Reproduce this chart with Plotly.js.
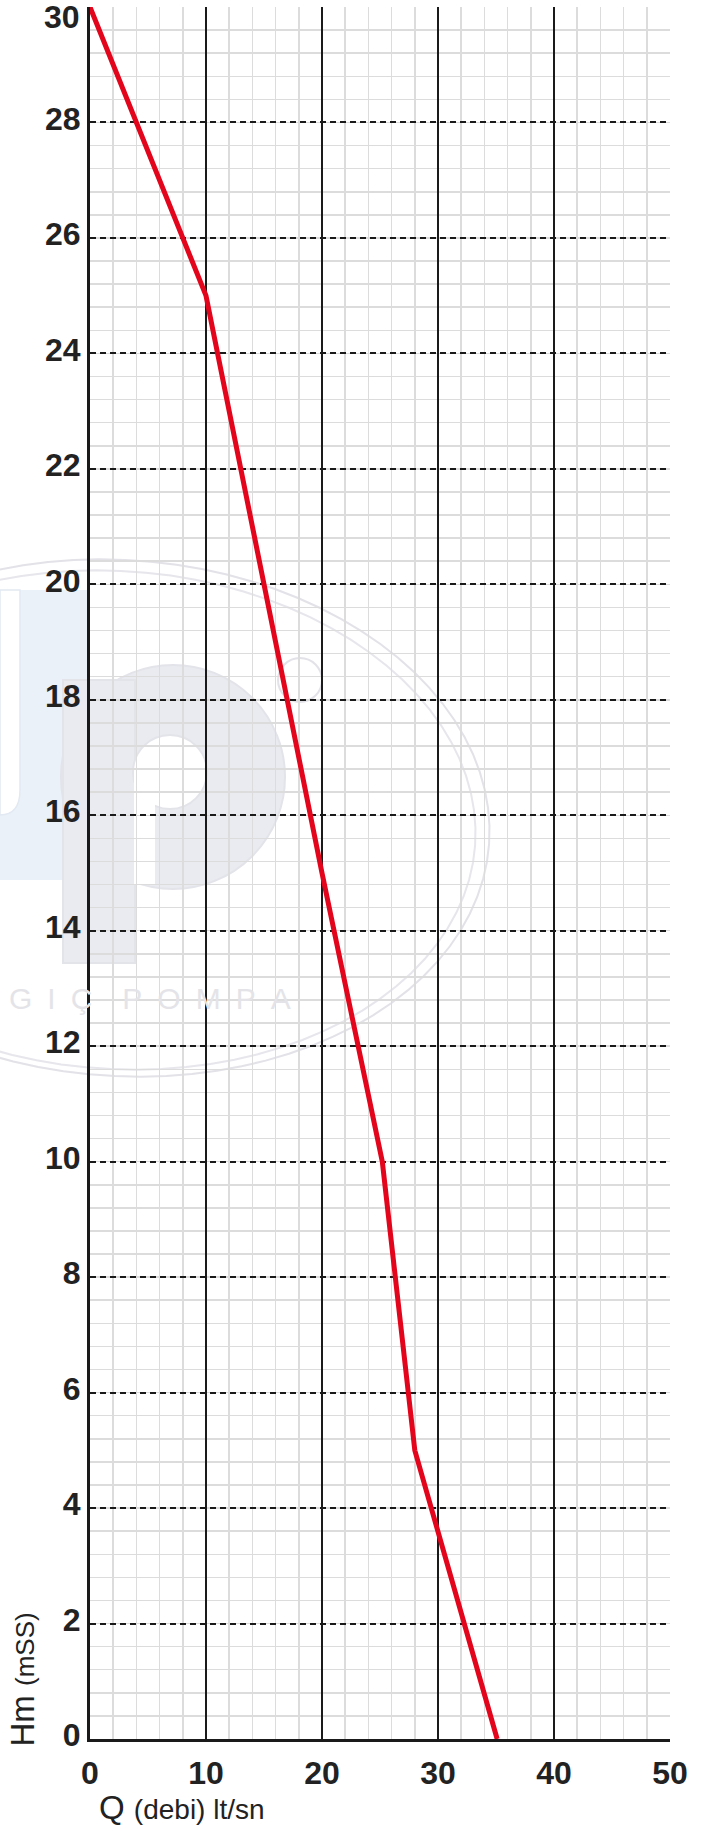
<!DOCTYPE html>
<html>
<head>
<meta charset="utf-8">
<script src="https://cdn.plot.ly/plotly-3.0.1.min.js"></script>
<style>html,body{margin:0;padding:0;background:#fff;}#chart{width:715px;height:1831px;}</style>
</head>
<body>
<div id="chart"></div>
<script>
// Pump curve: flow Q (lt/sn) vs head Hm (mSS)
const flowQ = [0, 10, 20, 25.2, 28, 35.1];
const headH = [30, 25, 15, 10, 5, 0];
const xTicks = [0, 10, 20, 30, 40, 50];
const yTicks = [0, 2, 4, 6, 8, 10, 12, 14, 16, 18, 20, 22, 24, 26, 28];
const yTopTick = 30;   // top label, drawn as annotation so it is not clipped

const FONT = 'Liberation Sans, Arial, sans-serif';
const tickFont = {family: FONT, size: 32, color: '#222222', weight: 'bold'};

// page geometry of the plot area (pixels), used only to place the faint watermark
const W = 715, H = 1831, ML = 90, MR = 45, MT = 7, MB = 92;
const PW = W - ML - MR, PH = H - MT - MB;
const px = v => (v - ML) / PW;           // page x pixel -> paper x
const py = v => (H - MB - v) / PH;       // page y pixel -> paper y

function ellipsePath(cx, cy, rx, ry, rotDeg) {
  const a = rotDeg * Math.PI / 180;
  let d = '';
  for (let i = 0; i <= 90; i++) {
    const t = i / 90 * 2 * Math.PI;
    const ex = rx * Math.cos(t), ey = ry * Math.sin(t);
    const X = cx + ex * Math.cos(a) - ey * Math.sin(a);
    const Y = cy + ex * Math.sin(a) + ey * Math.cos(a);
    d += (i === 0 ? 'M' : 'L') + px(X).toFixed(5) + ',' + py(Y).toFixed(5);
  }
  return d + 'Z';
}
function circ(cx, cy, r) {
  return {x0: px(cx - r), x1: px(cx + r), y0: py(cy + r), y1: py(cy - r)};
}
function rectP(x0, x1, yTop, yBot) {
  return {x0: px(x0), x1: px(x1), y0: py(yBot), y1: py(yTop)};
}
const base = {xref: 'paper', yref: 'paper', layer: 'below'};
const LAV = '#eaeaf1', BLUE = '#eaf1f8';

const wmShapes = [
  // blue "u" part
  Object.assign({type: 'rect', line: {width: 0}, fillcolor: BLUE}, base, rectP(0, 90, 590, 880)),
  {...base, type: 'path', line: {color: '#e2e9f2', width: 1.5}, fillcolor: '#ffffff',
   path: 'M' + px(0) + ',' + py(590) + 'L' + px(20) + ',' + py(590) + 'L' + px(20) + ',' + py(790) +
         'Q' + px(20) + ',' + py(815) + ' ' + px(0) + ',' + py(815) + 'Z'},
  // lavender "p" bowl and stem
  Object.assign({type: 'circle', line: {color: '#e3e3ea', width: 2}, fillcolor: LAV}, base, circ(173, 777, 112)),
  Object.assign({type: 'rect', line: {color: '#e3e3ea', width: 2}, fillcolor: LAV}, base, rectP(63, 135, 680, 963)),
  Object.assign({type: 'rect', line: {width: 0}, fillcolor: LAV}, base, rectP(64, 134, 690, 860)),
  // inner white counter
  Object.assign({type: 'circle', line: {color: '#e3e3ea', width: 2}, fillcolor: '#ffffff'}, base, circ(170, 772, 37)),
  Object.assign({type: 'rect', line: {width: 0}, fillcolor: '#ffffff'}, base, rectP(134, 155, 772, 885)),
  // registered mark
  Object.assign({type: 'circle', line: {color: '#e2e2e8', width: 2}, fillcolor: 'rgba(0,0,0,0)'}, base, circ(300, 680, 22)),
  // outer swoosh ellipse (double line)
  {...base, type: 'path', line: {color: '#e2e2e8', width: 2}, path: ellipsePath(120, 818, 370, 258, 4)},
  {...base, type: 'path', line: {color: '#e6e6ec', width: 2}, path: ellipsePath(116, 820, 360, 249, 4)}
];

const trace = {
  x: flowQ, y: headH, type: 'scatter', mode: 'lines',
  line: {color: '#e3051b', width: 5},
  hoverinfo: 'skip'
};

const layout = {
  width: W, height: H,
  margin: {l: ML, r: MR, t: MT, b: MB},
  paper_bgcolor: '#ffffff', plot_bgcolor: 'rgba(0,0,0,0)',
  showlegend: false,
  shapes: wmShapes,
  xaxis: {
    range: [0, 50], tickmode: 'array', tickvals: xTicks, ticktext: xTicks.map(String),
    tickfont: tickFont, ticks: '', ticklabelstandoff: 4, ticklabeloverflow: 'allow',
    showgrid: true, gridcolor: '#1a1a1a', gridwidth: 1.5,
    showline: true, linecolor: '#1a1a1a', linewidth: 3, mirror: false,
    zeroline: false,
    minor: {dtick: 2, showgrid: true, gridcolor: '#dcdcdc', gridwidth: 1.5, griddash: 'solid'}
  },
  yaxis: {
    range: [0, 30], tickmode: 'array', tickvals: yTicks.concat([yTopTick]),
    ticktext: yTicks.map(String).concat(['']),
    tickfont: tickFont, ticks: '', ticklabelstandoff: 0, ticklabeloverflow: 'allow', ticklabelshift: -4,
    showgrid: true, gridcolor: '#1a1a1a', gridwidth: 2, griddash: '6px,4px',
    showline: true, linecolor: '#1a1a1a', linewidth: 3,
    zeroline: false,
    minor: {dtick: 0.4, showgrid: true, gridcolor: '#dcdcdc', gridwidth: 1.5, griddash: 'solid'}
  },
  annotations: [
    {xref: 'x', yref: 'y', x: 0, y: yTopTick, xanchor: 'right', yanchor: 'middle', xshift: -8, yshift: -10,
     text: String(yTopTick), showarrow: false, font: tickFont},
    {xref: 'paper', yref: 'paper', x: px(97), y: 0, xanchor: 'left', yanchor: 'top', yshift: -48,
     text: "Q <span style='font-size:28px'>(debi) lt/sn</span>", showarrow: false,
     font: {family: FONT, size: 33, color: '#222222'}},
    {xref: 'paper', yref: 'paper', x: 0, y: 0, xanchor: 'right', yanchor: 'bottom', xshift: -48, yshift: -10,
     textangle: -90,
     text: "Hm <span style='font-size:26px'>(mSS)</span>", showarrow: false,
     font: {family: FONT, size: 33, color: '#222222'}},
    // faint watermark lettering
    {xref: 'paper', yref: 'paper', x: px(7), y: py(1010), xanchor: 'left', yanchor: 'bottom', yshift: -7,
     text: 'G\u2002I\u2002Ç\u2002\u2002P\u2002O\u2002M\u2002P\u2002A', showarrow: false,
     font: {family: FONT, size: 30, color: '#e4e4e8'}}
  ]
};

Plotly.newPlot('chart', [trace], layout, {displayModeBar: false, staticPlot: true});
</script>
</body>
</html>
